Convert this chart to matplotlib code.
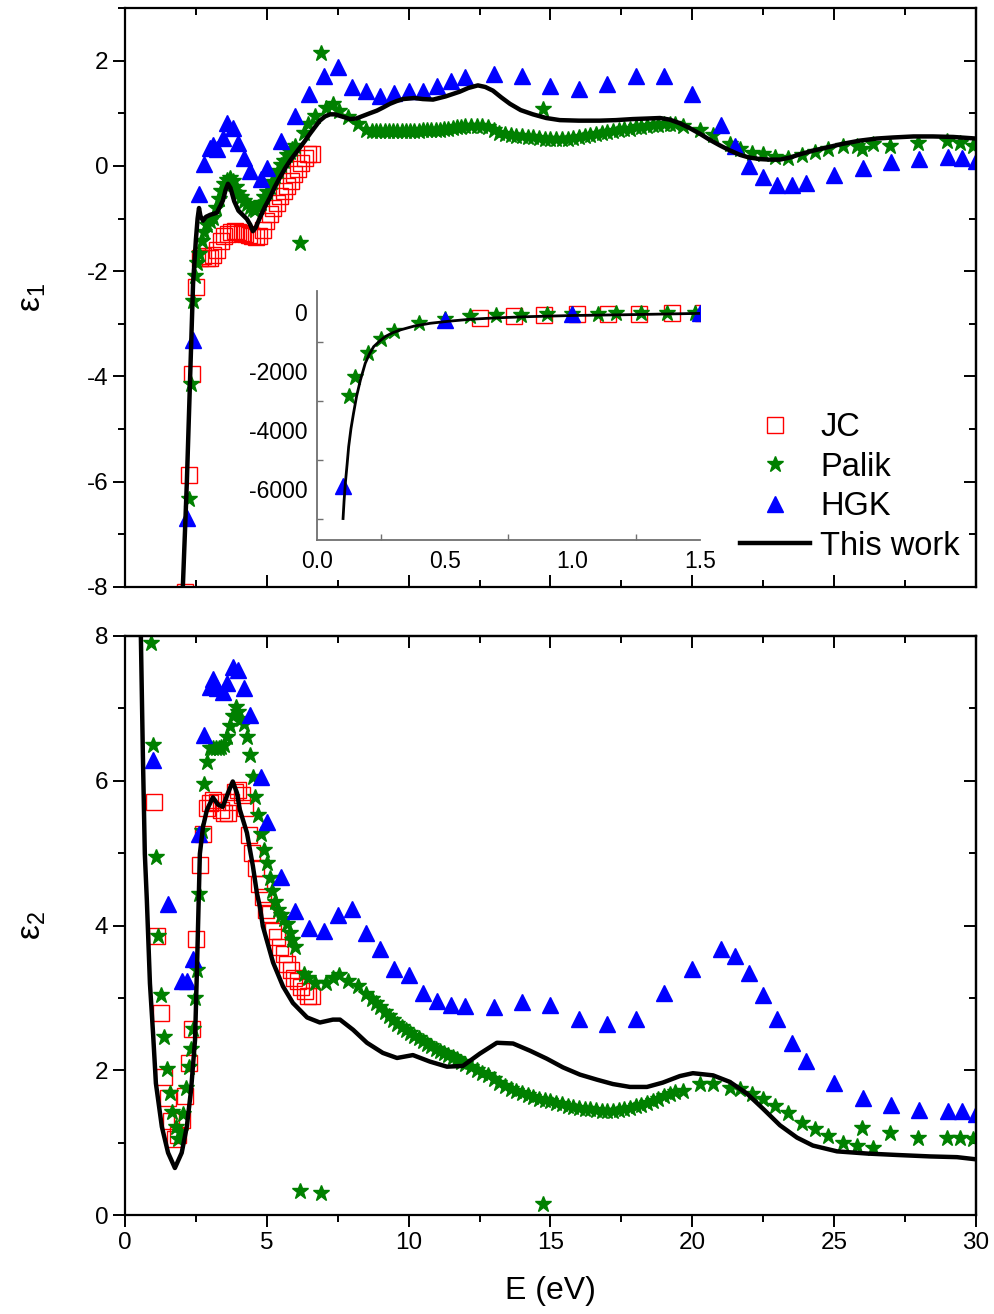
import matplotlib
matplotlib.use('Agg')
import matplotlib.pyplot as plt
from matplotlib.ticker import MultipleLocator

plt.rcParams['font.family'] = ['Liberation Sans', 'DejaVu Sans']
plt.rcParams['mathtext.default'] = 'regular'
plt.rcParams['axes.unicode_minus'] = False

# ---- data ----
# Johnson & Christy
jc_E = [0.64, 0.77, 0.89, 1.02, 1.14, 1.26, 1.39, 1.51, 1.64, 1.76, 1.88, 2.01,
        2.13, 2.26, 2.38, 2.50, 2.63, 2.75, 2.88, 3.00, 3.12, 3.25, 3.37, 3.50,
        3.62, 3.74, 3.87, 3.99, 4.12, 4.24, 4.36, 4.49, 4.61, 4.73, 4.86, 4.98,
        5.11, 5.23, 5.35, 5.48, 5.60, 5.72, 5.85, 5.97, 6.09, 6.22, 6.34, 6.46, 6.59]
jc_e1 = [-190, -130, -98, -75, -58, -46, -37, -30, -24.5, -20, -16, -12.5,
         -8.1, -5.87, -3.96, -2.30, -1.75, -1.72, -1.75, -1.75, -1.70, -1.60, -1.43, -1.33,
         -1.29, -1.26, -1.24, -1.25, -1.27, -1.29, -1.31, -1.33, -1.36, -1.33, -1.22, -1.05,
         -0.92, -0.80, -0.70, -0.58, -0.48, -0.38, -0.28, -0.15, -0.05, 0.06, 0.15, 0.22, 0.22]
jc_e2 = [11.5, 9.6, 8.3, 5.70, 3.85, 2.79, 1.91, 1.62, 1.30, 1.05, 1.10, 1.32,
         1.65, 2.10, 2.57, 3.81, 4.84, 5.27, 5.62, 5.69, 5.73, 5.70, 5.59, 5.55,
         5.55, 5.70, 5.85, 5.87, 5.80, 5.63, 5.25, 5.00, 4.80, 4.58, 4.40, 4.22,
         4.16, 3.93, 3.84, 3.70, 3.61, 3.47, 3.38, 3.28, 3.24, 3.15, 3.10, 3.03, 3.03]

# Palik
palik_E = [0.125, 0.15, 0.2, 0.25, 0.3, 0.4, 0.5, 0.6, 0.7, 0.8, 0.9, 1.0, 1.1, 1.17, 1.27,
           1.37, 1.48, 1.59, 1.66, 1.8, 1.87, 1.95, 2.05, 2.15, 2.26, 2.33, 2.4, 2.47, 2.54,
           2.6, 2.7, 2.8, 2.9, 3.0, 3.1, 3.2, 3.3, 3.4, 3.5, 3.6, 3.7, 3.8, 3.9, 4.0,
           4.1, 4.2, 4.3, 4.4, 4.5, 4.6, 4.7, 4.8, 4.9, 5.0, 5.1, 5.2, 5.3, 5.4, 5.5,
           5.6, 5.7, 5.8, 5.9, 6.0,
           6.17, 6.3, 6.45, 6.7, 6.91, 7.1, 7.35, 7.55, 7.85, 8.2, 8.5,
           8.7, 8.85, 9.0, 9.15, 9.3, 9.45, 9.6, 9.75, 9.9, 10.05, 10.2, 10.35, 10.5,
           10.65, 10.8, 10.95, 11.1, 11.25, 11.4, 11.55, 11.7, 11.85, 12.0,
           12.2, 12.4, 12.6, 12.8, 13.0, 13.2, 13.4, 13.6, 13.8, 14.0, 14.2, 14.4, 14.6,
           14.73, 14.8, 15.0, 15.2, 15.4, 15.6, 15.8, 16.0, 16.2, 16.4, 16.6, 16.8, 17.0,
           17.2, 17.4, 17.6, 17.8, 18.0, 18.2, 18.4, 18.6, 18.8, 19.0, 19.2, 19.4,
           19.67, 20.27, 20.73, 21.33, 21.68, 22.1, 22.49, 22.91, 23.37, 23.86, 24.32,
           24.78, 25.31, 25.8, 25.98, 26.37, 26.96, 27.95, 28.97, 29.43, 29.89]
palik_e1 = [-2840, -2185, -1370, -917, -623, -350, -220, -135, -108, -86, -68, -55, -46, -40, -33,
            -28, -23, -19, -17, -14, -12.5, -11, -9.6, -8.4, -6.32, -4.15, -2.57, -2.1, -1.85,
            -1.68, -1.43, -1.26, -1.12, -1.05, -0.99, -0.80, -0.62, -0.48, -0.35, -0.27, -0.23, -0.28, -0.40, -0.52,
            -0.60, -0.66, -0.72, -0.78, -0.82, -0.83, -0.78, -0.70, -0.60, -0.49, -0.40, -0.30, -0.19, -0.09, 0.01,
            0.10, 0.20, 0.27, 0.33, 0.37,
            -1.47, 0.62, 0.80, 0.95, 2.15, 1.10, 1.17, 1.05, 0.92, 0.80, 0.68,
            0.66, 0.66, 0.66, 0.66, 0.66, 0.66, 0.67, 0.67, 0.67, 0.67, 0.67, 0.67, 0.68,
            0.68, 0.68, 0.69, 0.69, 0.70, 0.71, 0.72, 0.73, 0.74, 0.75,
            0.75, 0.76, 0.76, 0.74, 0.68, 0.62, 0.60, 0.58, 0.57, 0.56, 0.55, 0.54, 0.53,
            1.08, 0.52, 0.51, 0.51, 0.51, 0.52, 0.53, 0.54, 0.56, 0.58, 0.60, 0.62, 0.64,
            0.66, 0.68, 0.70, 0.71, 0.73, 0.74, 0.76, 0.77, 0.78, 0.79, 0.80, 0.80,
            0.76, 0.68, 0.58, 0.42, 0.33, 0.25, 0.22, 0.17, 0.15, 0.20, 0.27,
            0.33, 0.37, 0.38, 0.33, 0.42, 0.38, 0.44, 0.48, 0.44, 0.38]
palik_e2 = [1100, 720, 350, 190, 115, 52, 28, 17, 12, 9.3, 7.9, 6.5, 4.94, 3.85, 3.04,
            2.46, 2.02, 1.68, 1.42, 1.21, 1.05, 1.15, 1.4, 1.75, 2.05, 2.3, 2.57, 3.0, 3.38,
            4.44, 5.3, 5.96, 6.26, 6.45, 6.45, 6.45, 6.45, 6.46, 6.5, 6.6, 6.75, 6.9, 7.02, 6.95,
            6.85, 6.78, 6.6, 6.35, 6.05, 5.78, 5.52, 5.27, 5.05, 4.87, 4.66, 4.47, 4.33, 4.22, 4.14,
            4.09, 4.02, 3.9, 3.8, 3.7,
            0.33, 3.33, 3.27, 3.2, 0.30, 3.21, 3.27, 3.31, 3.24, 3.16, 3.05,
            2.98, 2.93, 2.87, 2.81, 2.75, 2.70, 2.64, 2.60, 2.56, 2.52, 2.48, 2.44, 2.40,
            2.37, 2.33, 2.30, 2.27, 2.24, 2.21, 2.18, 2.15, 2.12, 2.09,
            2.05, 2.00, 1.96, 1.93, 1.88, 1.83, 1.78, 1.74, 1.71, 1.68, 1.66, 1.63, 1.61,
            0.15, 1.59, 1.57, 1.55, 1.53, 1.51, 1.49, 1.48, 1.47, 1.46, 1.45, 1.44, 1.44,
            1.44, 1.45, 1.46, 1.48, 1.50, 1.52, 1.55, 1.58, 1.61, 1.64, 1.67, 1.70,
            1.72, 1.81, 1.81, 1.76, 1.74, 1.67, 1.60, 1.51, 1.41, 1.27, 1.19,
            1.09, 1.00, 0.95, 1.20, 0.93, 1.13, 1.07, 1.07, 1.07, 1.05]

# HGK
hgk_E = [0.1, 0.5, 1.0, 1.5, 2.0, 2.2, 2.4, 2.6, 2.8, 3.0, 3.1, 3.25, 3.45, 3.6, 3.8, 4.0,
         4.2, 4.4, 4.8, 5.0, 5.5, 6.0, 6.5, 7.0, 7.5, 8.0, 8.5, 9.0, 9.5, 10.0, 10.5, 11.0,
         11.5, 12.0, 13.0, 14.0, 15.0, 16.0, 17.0, 18.0, 19.0, 20.0, 21.0, 21.5, 22.0, 22.5,
         23.0, 23.5, 24.0, 25.0, 26.0, 27.0, 28.0, 29.0, 29.5, 30.0]
hgk_e1 = [-5900, -260, -55, -22, -11, -6.69, -3.3, -0.53, 0.04, 0.34, 0.40, 0.32, 0.53, 0.82, 0.72, 0.44,
          0.15, -0.10, -0.25, -0.04, 0.48, 0.95, 1.37, 1.71, 1.87, 1.49, 1.43, 1.33, 1.39, 1.43, 1.43, 1.52,
          1.62, 1.68, 1.75, 1.70, 1.51, 1.47, 1.56, 1.71, 1.71, 1.37, 0.78, 0.38, 0.0, -0.22,
          -0.37, -0.37, -0.33, -0.18, -0.04, 0.07, 0.14, 0.16, 0.15, 0.10]
hgk_e2 = [1500, 40, 6.28, 4.3, 3.24, 3.24, 3.54, 5.27, 6.63, 7.29, 7.41, 7.28, 7.23, 7.35, 7.57, 7.53,
          7.28, 6.91, 6.05, 5.43, 4.67, 4.2, 3.97, 3.93, 4.14, 4.23, 3.9, 3.68, 3.4, 3.32, 3.07, 2.96,
          2.9, 2.89, 2.87, 2.95, 2.9, 2.71, 2.64, 2.71, 3.07, 3.4, 3.67, 3.58, 3.35, 3.04,
          2.71, 2.38, 2.13, 1.83, 1.62, 1.52, 1.45, 1.44, 1.44, 1.40]

# this work, eps1
work_E1 = [0.102, 0.106, 0.111, 0.118, 0.124, 0.133, 0.143, 0.155, 0.17, 0.189, 0.205, 0.222,
           0.245, 0.267, 0.295, 0.326, 0.38, 0.443, 0.52, 0.6, 0.7, 0.835, 1.0, 1.2, 1.487,
           1.7, 1.9, 1.97, 2.04, 2.18, 2.29, 2.40, 2.50, 2.56, 2.61, 2.66, 2.75, 2.85, 3.0,
           3.24, 3.45, 3.55, 3.63, 3.72, 3.85, 4.0, 4.15, 4.3, 4.42, 4.51, 4.6, 4.76, 4.93,
           5.11, 5.28, 5.46, 5.64, 5.82, 6.0, 6.17, 6.35, 6.52, 6.7, 6.87, 7.05, 7.23, 7.4,
           7.58, 7.76, 7.93, 8.15, 8.39, 8.63, 8.88, 9.1, 9.34, 9.57, 9.8, 10.2, 10.5, 10.86,
           11.3, 11.8, 12.1, 12.44, 12.7, 12.97, 13.27, 13.57, 13.95, 14.38, 14.85, 15.33,
           16.0, 16.74, 17.3, 17.9, 18.4, 18.86, 19.2, 19.56, 19.9, 20.27, 20.6, 20.97, 21.3,
           21.68, 22.0, 22.38, 22.7, 23.09, 23.45, 23.79, 24.25, 24.74, 25.3, 25.9, 26.5,
           27.07, 27.8, 28.48, 29.2, 30.0]
work_e1 = [-7000, -6400, -5800, -5150, -4560, -3950, -3430, -2850, -2300, -1730, -1420, -1166,
           -980, -826, -700, -600, -470, -374, -300, -238, -190, -147, -110, -85, -40,
           -25, -14, -10.5, -8.0, -6.03, -4.14, -2.24, -1.40, -1.0, -0.80, -0.95, -1.04, -0.97, -0.93,
           -0.89, -0.66, -0.45, -0.34, -0.42, -0.67, -0.85, -0.93, -1.01, -1.12, -1.24, -1.18, -0.98, -0.78,
           -0.60, -0.40, -0.22, -0.05, 0.10, 0.23, 0.35, 0.48, 0.61, 0.74, 0.86, 0.94, 0.98, 0.98,
           0.95, 0.92, 0.89, 0.90, 0.95, 1.00, 1.05, 1.11, 1.18, 1.23, 1.27, 1.29, 1.27, 1.26,
           1.32, 1.41, 1.48, 1.53, 1.50, 1.43, 1.30, 1.18, 1.06, 0.98, 0.91, 0.87,
           0.86, 0.86, 0.87, 0.89, 0.90, 0.91, 0.88, 0.81, 0.72, 0.61, 0.50, 0.39, 0.30,
           0.21, 0.16, 0.13, 0.12, 0.12, 0.16, 0.22, 0.29, 0.35, 0.42, 0.48, 0.52,
           0.54, 0.56, 0.56, 0.55, 0.52]

# this work, eps2
work_E2 = [0.5, 0.56, 0.63, 0.7, 0.77, 0.88, 0.99, 1.09, 1.3, 1.52, 1.76, 2.0, 2.18, 2.33,
           2.47, 2.54, 2.64, 2.75, 2.89, 3.1, 3.28, 3.45, 3.63, 3.8, 3.95, 4.05, 4.3, 4.51,
           4.65, 4.76, 4.86, 5.22, 5.57, 5.92, 6.42, 6.87, 7.33, 7.58, 8.04, 8.53, 9.09, 9.59,
           10.15, 10.75, 11.35, 11.91, 12.51, 13.11, 13.68, 14.28, 14.87, 15.44, 16.04, 16.64,
           17.2, 17.8, 18.4, 18.96, 19.56, 20.02, 20.73, 21.32, 21.92, 22.49, 23.09, 23.69,
           24.25, 25.1, 26.15, 27.21, 28.38, 29.33, 30.0]
work_e2 = [9.5, 8.0, 6.38, 4.99, 4.36, 3.2, 2.51, 1.82, 1.22, 0.86, 0.65, 0.86, 1.22, 1.73,
           2.42, 3.43, 4.99, 5.36, 5.6, 5.77, 5.67, 5.64, 5.83, 5.99, 5.83, 5.6, 5.28, 4.82,
           4.45, 4.25, 3.99, 3.49, 3.16, 2.93, 2.73, 2.66, 2.70, 2.70, 2.56, 2.38, 2.24, 2.17,
           2.21, 2.12, 2.05, 2.06, 2.23, 2.38, 2.37, 2.27, 2.16, 2.04, 1.94, 1.87,
           1.81, 1.77, 1.77, 1.83, 1.92, 1.96, 1.93, 1.84, 1.68, 1.47, 1.24, 1.07,
           0.96, 0.88, 0.85, 0.83, 0.81, 0.80, 0.77]

# ---- styles ----
red = '#ff0000'
green = '#008000'
blue = '#0000ff'
jc_kw = dict(ls='none', marker='s', ms=11.5, mfc='none', mec=red, mew=1.0, label='JC')
palik_kw = dict(ls='none', marker='*', ms=12, color=green, mec=green, label='Palik')
hgk_kw = dict(ls='none', marker='^', ms=11, color=blue, mec=blue, label='HGK')

fig = plt.figure(figsize=(9.95, 13.14), dpi=100)
ax1 = fig.add_axes([0.1256, 0.5533, 0.8553, 0.4406])
ax2 = fig.add_axes([0.1256, 0.0753, 0.8553, 0.4407])
axin = fig.add_axes([0.3186, 0.589, 0.3849, 0.1895])


def setup_main(ax, bottom_labels):
    for s in ax.spines.values():
        s.set_linewidth(1.6)
    ax.set_xlim(0, 30)
    ax.xaxis.set_major_locator(MultipleLocator(5))
    ax.xaxis.set_minor_locator(MultipleLocator(2.5))
    ax.tick_params(which='major', length=8.5, width=1.4, labelsize=17.5)
    ax.tick_params(which='minor', length=5, width=1.4)
    ax.tick_params(axis='y', which='both', direction='out', left=True, right=False)
    if bottom_labels:
        ax.tick_params(axis='x', which='both', direction='out', bottom=True, top=False)
        sx = ax.secondary_xaxis('top')
        sx.xaxis.set_major_locator(MultipleLocator(5))
        sx.xaxis.set_minor_locator(MultipleLocator(2.5))
        sx.tick_params(which='major', direction='in', length=8.5, width=1.4, labeltop=False)
        sx.tick_params(which='minor', direction='in', length=5, width=1.4)
        sx.spines['top'].set_linewidth(1.6)
    else:
        ax.tick_params(axis='x', which='both', direction='in', bottom=True, top=True,
                       labelbottom=False)
    sy = ax.secondary_yaxis('right')
    sy.yaxis.set_major_locator(MultipleLocator(2))
    sy.yaxis.set_minor_locator(MultipleLocator(1))
    sy.tick_params(which='major', direction='in', length=8.5, width=1.4, labelright=False)
    sy.tick_params(which='minor', direction='in', length=5, width=1.4)
    sy.spines['right'].set_linewidth(1.6)


# top panel: eps1
ax1.plot(jc_E, jc_e1, **jc_kw)
ax1.plot(palik_E, palik_e1, **palik_kw)
ax1.plot(hgk_E, hgk_e1, **hgk_kw)
ax1.plot(work_E1, work_e1, color='black', lw=3.2, label='This work')
ax1.set_ylim(-8, 3)
ax1.yaxis.set_major_locator(MultipleLocator(2))
ax1.yaxis.set_minor_locator(MultipleLocator(1))
setup_main(ax1, False)
ax1.set_ylabel(r'$\mathregular{ε_1}$', fontsize=24)
ax1.yaxis.set_label_coords(-0.09, 0.5)
ax1.legend(loc='upper left', bbox_to_anchor=(0.723, 0.302), frameon=False, fontsize=23.5,
           borderpad=0, borderaxespad=0, handlelength=2.15, handletextpad=0.3,
           labelspacing=0.26, numpoints=1)

# bottom panel: eps2
ax2.plot(jc_E, jc_e2, **jc_kw)
ax2.plot(palik_E, palik_e2, **palik_kw)
ax2.plot(hgk_E, hgk_e2, **hgk_kw)
ax2.plot(work_E2, work_e2, color='black', lw=3.2)
ax2.set_ylim(0, 8)
ax2.yaxis.set_major_locator(MultipleLocator(2))
ax2.yaxis.set_minor_locator(MultipleLocator(1))
setup_main(ax2, True)
ax2.set_ylabel(r'$\mathregular{ε_2}$', fontsize=24)
ax2.yaxis.set_label_coords(-0.09, 0.5)
ax2.set_xlabel('E (eV)', fontsize=23)
ax2.xaxis.set_label_coords(0.5, -0.105)

# inset: low-energy eps1
axin.set_facecolor('none')
axin.plot(jc_E, jc_e1, **jc_kw)
axin.plot(palik_E, palik_e1, **palik_kw)
axin.plot(hgk_E, hgk_e1, **hgk_kw)
axin.plot(work_E1, work_e1, color='black', lw=2)
axin.set_xlim(0, 1.5)
axin.set_ylim(-7730, 720)
axin.spines['top'].set_visible(False)
axin.spines['right'].set_visible(False)
for s in ('left', 'bottom'):
    axin.spines[s].set_color('#707070')
    axin.spines[s].set_linewidth(1.3)
axin.xaxis.set_major_locator(MultipleLocator(0.5))
axin.xaxis.set_minor_locator(MultipleLocator(0.25))
axin.yaxis.set_major_locator(MultipleLocator(2000))
axin.yaxis.set_minor_locator(MultipleLocator(1000))
axin.tick_params(which='both', direction='in', color='#707070', labelsize=16.5)
axin.tick_params(which='major', length=0, pad=7)
axin.tick_params(which='minor', length=4, width=1)
axin.xaxis.set_major_formatter(plt.FuncFormatter(lambda v, p: '%.1f' % v))

fig.savefig('out.png', dpi=100)
